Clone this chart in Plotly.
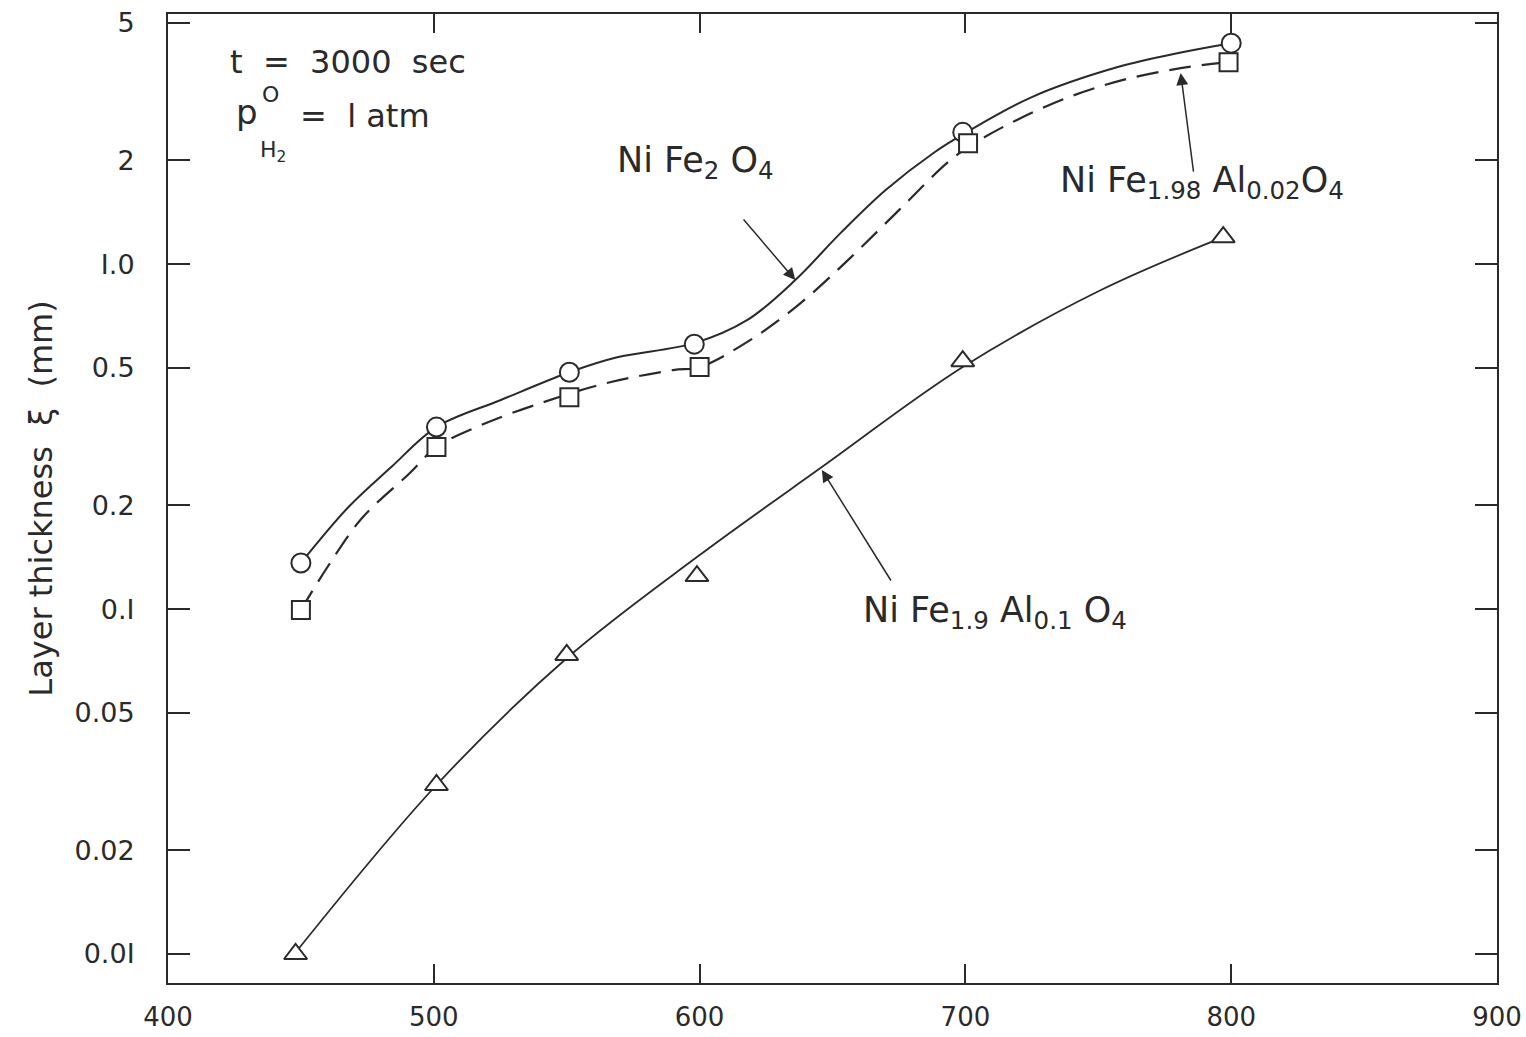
import plotly.graph_objects as go
import math

# ---------------- data ----------------
# measured points
t_nife2o4 = [450, 501, 551, 598, 699, 800]
xi_nife2o4 = [0.136, 0.337, 0.486, 0.586, 2.41, 4.37]

t_al002 = [450, 501, 551, 600, 701, 799]
xi_al002 = [0.0994, 0.295, 0.411, 0.503, 2.24, 3.85]

t_al01 = [448, 501, 550, 599, 699, 797]
xi_al01 = [0.0100, 0.0309, 0.0736, 0.1246, 0.523, 1.197]

# drawn curves
curve_nife2o4_t = [450, 468, 484, 501, 525, 551, 569, 598, 618, 636, 653, 670, 688, 700, 725, 757, 782, 800]
curve_nife2o4_xi = [0.136, 0.198, 0.258, 0.337, 0.403, 0.486, 0.537, 0.590, 0.689, 0.899, 1.23, 1.64, 2.10, 2.40, 3.05, 3.72, 4.12, 4.37]

curve_al002_t = [450, 460, 473, 491, 501, 518, 540, 565, 590, 600, 619, 638, 657, 675, 693, 701, 717, 738, 759, 781, 799]
curve_al002_xi = [0.0994, 0.1324, 0.1836, 0.248, 0.295, 0.342, 0.395, 0.452, 0.493, 0.503, 0.602, 0.771, 1.048, 1.434, 1.962, 2.184, 2.563, 3.03, 3.415, 3.70, 3.85]

curve_al01_t = [448, 501, 550, 599, 646, 699, 751, 797]
curve_al01_xi = [0.0101, 0.0309, 0.0720, 0.1415, 0.258, 0.503, 0.841, 1.197]

x_ticks = [400, 500, 600, 700, 800, 900]
y_ticks = [0.01, 0.02, 0.05, 0.1, 0.2, 0.5, 1.0, 2, 5]
y_tick_text = ["0.0I", "0.02", "0.05", "0.I", "0.2", "0.5", "I.0", "2", "5"]

INK = "#2a2a2a"
FONT = "DejaVu Sans"

fig = go.Figure()

# curves
fig.add_trace(go.Scatter(x=curve_nife2o4_t, y=curve_nife2o4_xi, mode="lines",
                         line=dict(color=INK, width=2, shape="spline", smoothing=1.0),
                         hoverinfo="skip", showlegend=False))
fig.add_trace(go.Scatter(x=curve_al002_t, y=curve_al002_xi, mode="lines",
                         line=dict(color=INK, width=2.2, dash="22px,11px", shape="spline", smoothing=1.0),
                         hoverinfo="skip", showlegend=False))
fig.add_trace(go.Scatter(x=curve_al01_t, y=curve_al01_xi, mode="lines",
                         line=dict(color=INK, width=1.8, shape="spline", smoothing=1.0),
                         hoverinfo="skip", showlegend=False))

# markers
fig.add_trace(go.Scatter(x=t_nife2o4, y=xi_nife2o4, mode="markers", name="NiFe2O4",
                         marker=dict(symbol="circle", size=19, color="white",
                                     line=dict(color=INK, width=2)), showlegend=False))
fig.add_trace(go.Scatter(x=t_al002, y=xi_al002, mode="markers", name="NiFe1.98Al0.02O4",
                         marker=dict(symbol="square", size=18, color="white",
                                     line=dict(color=INK, width=2)), showlegend=False))
fig.add_trace(go.Scatter(x=t_al01, y=xi_al01, mode="markers", name="NiFe1.9Al0.1O4",
                         marker=dict(symbol="triangle-up", size=20, color="white",
                                     line=dict(color=INK, width=2)), showlegend=False))

L, R, T, B = 168, 29, 14, 54
W, H = 1526, 1037
pw, ph = W - L - R, H - T - B

def px(xp):
    return (xp - L) / pw

def py(yp):
    return (H - B - yp) / ph

ann = []
def text(s, xp, yp, size, anchor="left"):
    ann.append(dict(text=s, xref="paper", yref="paper", x=px(xp), y=py(yp),
                    xanchor=anchor, yanchor="middle", showarrow=False,
                    font=dict(family=FONT, size=size, color=INK)))

text("t  =  3000  sec", 228, 62, 32)
text("p", 234, 112, 34)
text("O", 260, 94, 22)
text("H<sub>2</sub>", 258, 152, 22)
text("=  l atm", 298, 116, 32)

text("Ni Fe<sub>2</sub> O<sub>4</sub>", 695, 162, 35, "center")
text("Ni Fe<sub>1.98</sub> Al<sub>0.02</sub>O<sub>4</sub>", 1202, 182, 35, "center")
text("Ni Fe<sub>1.9</sub> Al<sub>0.1</sub> O<sub>4</sub>", 995, 612, 35, "center")

def arrow(xd, yd, axp, ayp):
    ann.append(dict(text="", x=xd, y=math.log10(yd), xref="x", yref="y",
                    showarrow=True, arrowhead=2, arrowsize=1.6, arrowwidth=1.5,
                    arrowcolor=INK, ax=axp, ay=ayp, standoff=0))

arrow(636, 0.899, -53, -62)
arrow(781, 3.58, 13, 100)
arrow(646, 0.253, 70, 112)

fig.update_layout(
    width=W, height=H,
    margin=dict(l=L, r=R, t=T, b=B, autoexpand=False),
    paper_bgcolor="white", plot_bgcolor="white",
    font=dict(family=FONT, color=INK),
    annotations=ann,
    xaxis=dict(range=[400, 900], tickvals=x_ticks, ticks="inside", ticklen=19,
               tickwidth=1.5, tickcolor=INK, showline=True, linecolor=INK, linewidth=2,
               mirror="ticks", showgrid=False, zeroline=False, automargin=False,
               tickfont=dict(family=FONT, size=26, color=INK), ticklabelstandoff=10),
    yaxis=dict(type="log", range=[math.log10(0.00824), math.log10(5.31)],
               tickvals=y_ticks, ticktext=y_tick_text, ticks="inside", ticklen=22,
               tickwidth=1.5, tickcolor=INK, showline=True, linecolor=INK, linewidth=2,
               mirror="ticks", showgrid=False, zeroline=False, automargin=False,
               tickfont=dict(family=FONT, size=27, color=INK), ticklabelstandoff=26,
               title=dict(text="Layer thickness  ξ  (mm)", standoff=12,
                          font=dict(family=FONT, size=32, color=INK))),
)

fig.write_html("out.html", config={"displayModeBar": False},
               post_script="document.body.style.margin='0';document.body.style.overflow='hidden';")
